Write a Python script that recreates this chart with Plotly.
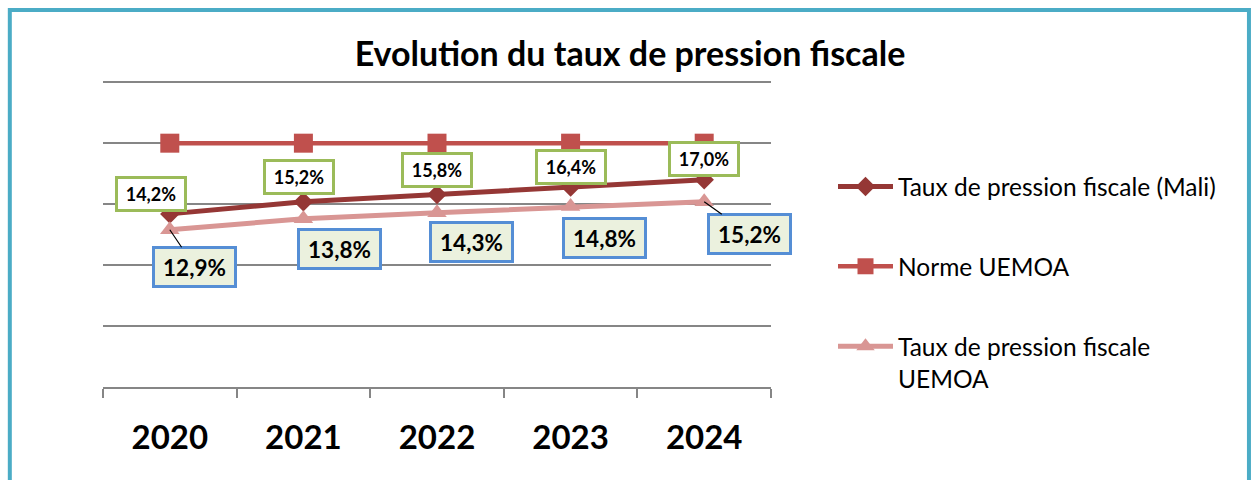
import plotly.graph_objects as go

years = ["2020", "2021", "2022", "2023", "2024"]
mali = [14.2, 15.2, 15.8, 16.4, 17.0]
norme = [20, 20, 20, 20, 20]
uemoa = [12.9, 13.8, 14.3, 14.8, 15.2]

mali_labels = ["14,2%", "15,2%", "15,8%", "16,4%", "17,0%"]
uemoa_labels = ["12,9%", "13,8%", "14,3%", "14,8%", "15,2%"]

FONT = "Lato"

fig = go.Figure()
fig.add_trace(go.Scatter(
    x=years, y=mali, name="Taux de pression fiscale (Mali)", mode="lines+markers",
    line=dict(color="#953735", width=5), marker=dict(symbol="diamond", size=15, color="#953735"),
    legendgroup="a",
))
fig.add_trace(go.Scatter(
    x=years, y=norme, name="Norme UEMOA", mode="lines+markers",
    line=dict(color="#C0504D", width=4.5), marker=dict(symbol="square", size=19, color="#C0504D"),
    legendgroup="b",
))
fig.add_trace(go.Scatter(
    x=years, y=uemoa, name="Taux de pression fiscale<br>UEMOA", mode="lines+markers",
    line=dict(color="#D99694", width=5), marker=dict(symbol="triangle-up", size=17, color="#D99694"),
    legendgroup="c",
))

# data labels: offsets in pixels (text box centre relative to the point)
mali_off = [(-19, -20), (-4, -25), (0, -24), (0, -20), (0, -21)]
uemoa_off = [(25, 37), (36, 30), (34, 29), (34, 31), (45, 32)]
leader = [True, False, False, False, True]

# annotations are placed by category index (string years would be read as numbers)
for i in range(len(years)):
    dx, dy = mali_off[i]
    fig.add_annotation(
        x=i, y=mali[i], text=f"<b>{mali_labels[i]}</b>", showarrow=True,
        arrowcolor="rgba(0,0,0,0)", ax=dx, ay=dy, width=64, height=28,
        font=dict(family=FONT, size=18, color="black"),
        bgcolor="white", bordercolor="#9BBB59", borderwidth=3, borderpad=1,
    )
    dx, dy = uemoa_off[i]
    fig.add_annotation(
        x=i, y=uemoa[i], text=f"<b>{uemoa_labels[i]}</b>", showarrow=True,
        arrowhead=0, arrowwidth=1.2, width=77, height=34,
        arrowcolor="black" if leader[i] else "rgba(0,0,0,0)", ax=dx, ay=dy,
        font=dict(family=FONT, size=22.5, color="black"),
        bgcolor="#EBF1DE", bordercolor="#558ED5", borderwidth=3, borderpad=1,
    )

# outer frame
fig.add_shape(
    type="rect", xref="paper", yref="paper",
    x0=-0.1395, x1=1.7155, y0=-0.34, y1=1.232,
    line=dict(color="#4BACC6", width=4), layer="below",
)

fig.update_layout(
    width=1252, height=480,
    margin=dict(l=103, r=481, t=81, b=93),
    plot_bgcolor="white", paper_bgcolor="white",
    font=dict(family=FONT, color="black"),
    title=dict(
        text="<b>Evolution du taux de pression fiscale</b>",
        x=630 / 1252, xref="container", xanchor="center",
        y=1 - 54 / 480, yref="container", yanchor="middle",
        font=dict(family=FONT, size=34, color="black"),
    ),
    legend=dict(
        xref="container", yref="container", x=833 / 1252, y=1 - 164 / 480,
        xanchor="left", yanchor="top", tracegroupgap=45, valign="top",
        font=dict(family=FONT, size=24.5, color="black"),
        itemwidth=55, bgcolor="rgba(0,0,0,0)",
    ),
    showlegend=True,
)
fig.update_xaxes(
    type="category", range=[-0.5, 4.5], autorange=False,
    tickson="boundaries", ticks="outside", ticklen=9, tickangle=0,
    tickcolor="#868686", tickwidth=1.5, showline=True, linecolor="#868686", linewidth=1.5,
    showgrid=False, ticklabelstandoff=21,
    tickfont=dict(family=FONT, size=33, color="black", weight="bold"),
)
fig.update_yaxes(
    range=[0, 25.1], autorange=False, dtick=5, showticklabels=False, showgrid=True,
    gridcolor="#868686", gridwidth=1.5, zeroline=False, showline=False,
)

fig.write_html("out.html", config={"displayModeBar": False},
               post_script="document.body.style.margin='0px';")
